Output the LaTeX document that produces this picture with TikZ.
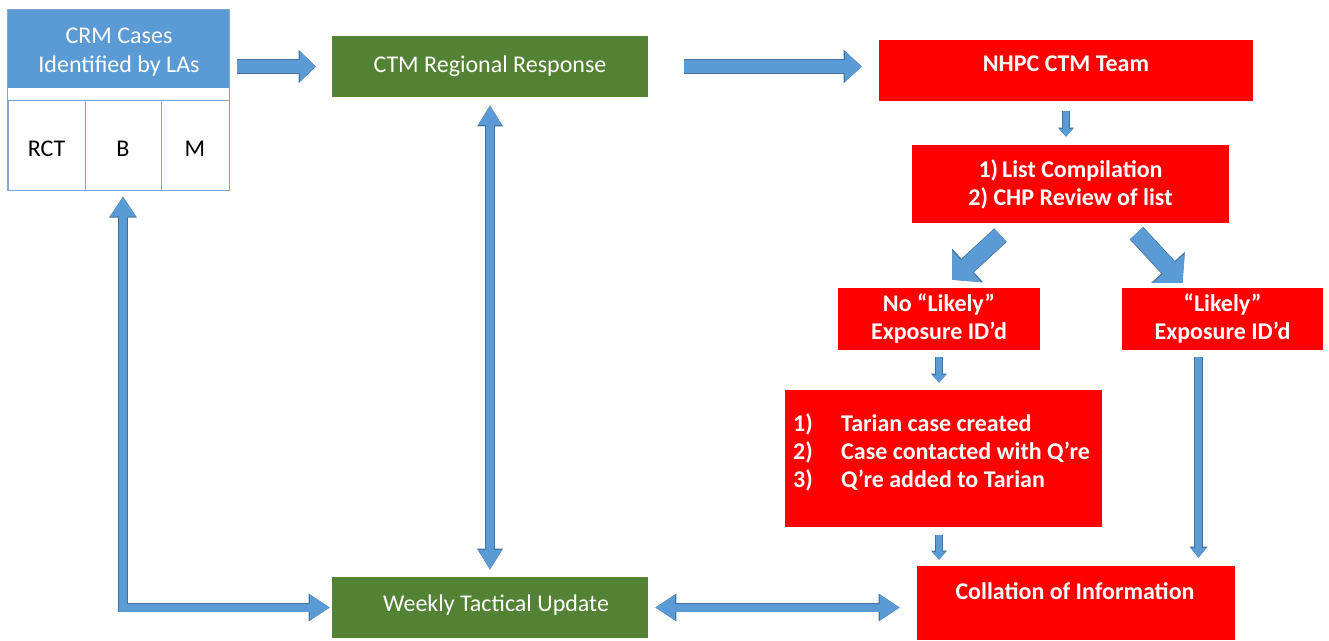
\documentclass[tikz,border=0pt]{standalone}
\usepackage{fontspec}
\setmainfont{Carlito}
\usetikzlibrary{arrows.meta,calc}
\definecolor{ofblue}{HTML}{5B9BD5}
\definecolor{ofblueline}{HTML}{41719C}
\definecolor{cellline}{HTML}{7EA6CF}
\definecolor{ofgreen}{HTML}{548235}
\definecolor{ofred}{HTML}{FF0000}
\begin{document}
\begin{tikzpicture}[x=1pt,y=-1pt,
  regfont/.style={font=\fontsize{24}{29}\selectfont},
  boldfont/.style={font=\bfseries\fontsize{24}{28}\selectfont},
  box/.style n args={2}{rectangle, inner sep=0pt, minimum width=#1, minimum height=#2},
  greenbox/.style={fill=ofgreen, text=white, regfont},
  redbox/.style={fill=ofred, text=white, boldfont, align=center},
  cellbox/.style={draw=cellline, line width=1pt, regfont, text height=23pt, text depth=0pt},
  fat/.style n args={3}{line width=#1, draw=ofblue,
    arrows={-{Triangle[width=#2,length=#3]}},
    preaction={draw=ofblueline, line width=#1+1.4pt,
      arrows={-{Triangle[width=#2+2.4pt,length=#3+1.2pt]}}}},
  fatboth/.style n args={3}{line width=#1, draw=ofblue,
    arrows={{Triangle[width=#2,length=#3]}-{Triangle[width=#2,length=#3]}},
    preaction={draw=ofblueline, line width=#1+1.4pt,
      arrows={{Triangle[width=#2+2.4pt,length=#3+1.2pt]}-{Triangle[width=#2+2.4pt,length=#3+1.2pt]}}}},
]
\useasboundingbox (0,0) rectangle (1329,640);

% local authority panel
\node[box={221pt}{78pt}, fill=ofblue] (crmhead) at (118.5,49) {};
\node[text=white, regfont, align=center, inner sep=0pt] (crmlabel) at (119,52)
  {CRM Cases\\Identified by LAs};
\node[box={77pt}{90pt}, cellbox] (rct) at (46.5,145) {RCT};
\node[box={76pt}{90pt}, cellbox] (bcell) at (123,145) {B};
\node[box={68pt}{90pt}, cellbox] (mcell) at (195,145) {M};
\draw[cellline, line width=1.3pt] (crmhead.north west) rectangle (mcell.south east);

% regional boxes
\node[box={316pt}{61pt}, greenbox] (ctm) at (490,66.5) {CTM Regional Response};
\node[box={316pt}{61pt}, fill=ofgreen] (weekly) at (490,607.5) {};
\node[text=white, regfont, inner sep=0pt] (weeklylabel) at (496,605) {Weekly Tactical Update};

% national team workflow
\node[box={374pt}{61pt}, fill=ofred] (nhpc) at (1066,70.5) {};
\node[boldfont, text=white, inner sep=0pt] (nhpclabel) at (1066,64) {NHPC CTM Team};
\node[box={317pt}{78pt}, redbox] (list) at (1070.5,184)
  {1)\,List Compilation\\2) CHP Review of list};
\node[box={202pt}{62pt}, redbox] (no) at (939,319) {No “Likely”\\Exposure ID’d};
\node[box={201pt}{62pt}, redbox] (likely) at (1222.5,319) {“Likely”\\Exposure ID’d};
\node[box={317pt}{137pt}, fill=ofred] (tarian) at (943.5,458.5) {};
\node[boldfont, text=white, inner sep=0pt, anchor=west, align=left] (tarianlist) at (793,452)
  {\makebox[48pt][l]{1)}Tarian case created\\
   \makebox[48pt][l]{2)}Case contacted with Q’re\\
   \makebox[48pt][l]{3)}Q’re added to Tarian};
\node[box={318pt}{74pt}, fill=ofred] (collation) at (1076,603) {};
\node[boldfont, text=white, inner sep=0pt] (collationlabel) at (1075,591) {Collation of Information};

% connectors
\draw[fat={13pt}{30pt}{16pt}, shorten <=8pt, shorten >=16pt]
  (crmhead.east |- ctm.west) -- (ctm.west);
\draw[fat={13pt}{30pt}{17pt}, shorten <=36pt, shorten >=17pt]
  (ctm.east) -- (ctm.east -| nhpc.west);
\draw[fatboth={8pt}{22pt}{20pt}, shorten <=8pt, shorten >=7pt]
  (ctm.south) -- (weekly.north);
\draw[fatboth={8pt}{24pt}{20pt}, shorten <=6pt, shorten >=2pt]
  (bcell.south) |- (weekly.west);
\draw[fatboth={8pt}{24pt}{20pt}, shorten <=7pt, shorten >=17pt]
  (weekly.east) -- (weekly.east -| collation.west);
\draw[fat={6pt}{13pt}{8pt}, shorten <=10pt, shorten >=8pt]
  (nhpc.south) -- (nhpc.south |- list.north);
\draw[fat={17pt}{42pt}{20pt}]
  ($(list.south)+(-70,12)$) -- ($(no.north)+(13,-8)$);
\draw[fat={17pt}{42pt}{20pt}]
  ($(list.south)+(66,10)$) -- ($(likely.north)+(-40,-5)$);
\draw[fat={6pt}{13pt}{8pt}, shorten <=7pt, shorten >=7pt]
  (no.south) -- (no.south |- tarian.north);
\draw[fat={6pt}{13pt}{8pt}, shorten <=8pt, shorten >=6pt]
  (tarian.south -| no.south) -- (no.south |- collation.north);
\draw[fat={7pt}{15pt}{10pt}, shorten <=7pt, shorten >=8pt]
  ($(likely.south)+(-24,0)$) -- ($(likely.south |- collation.north)+(-24,0)$);
\end{tikzpicture}
\end{document}
